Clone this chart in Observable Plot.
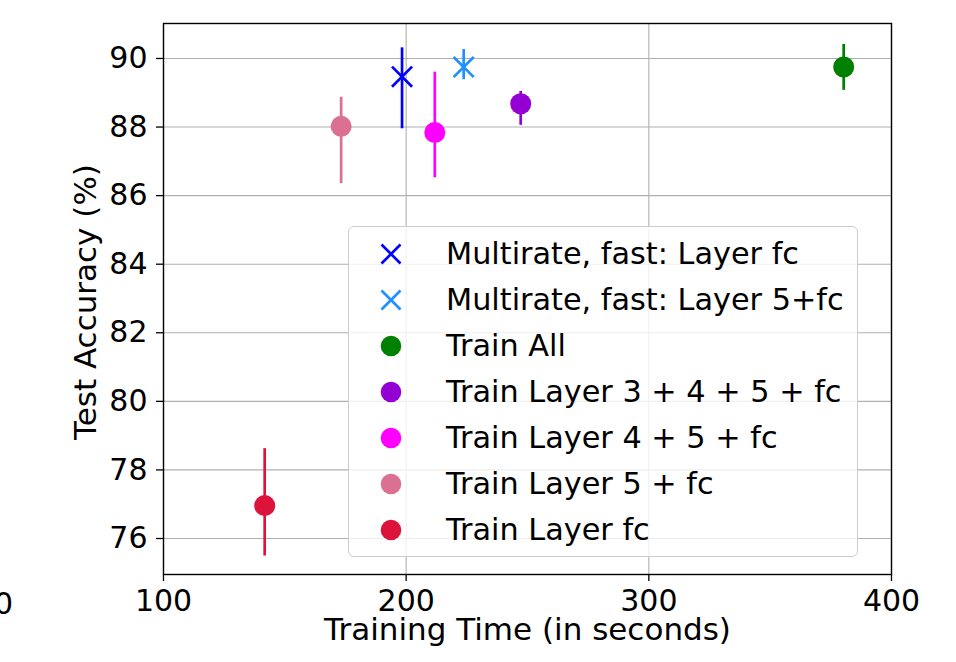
<!DOCTYPE html>
<html>
<head>
<meta charset="utf-8">
<script src="https://cdn.jsdelivr.net/npm/d3@7"></script>
<script src="https://cdn.jsdelivr.net/npm/@observablehq/plot@0.6"></script>
<style>
  html, body { margin: 0; padding: 0; background: white; }
  #wrap { position: relative; width: 956px; height: 662px; overflow: hidden; font-family: "DejaVu Sans", sans-serif; }
  #legend { position: absolute; left: 348px; top: 226px; width: 508px; height: 329px;
    border: 1.3px solid #cccccc; border-radius: 6px; background: rgba(255,255,255,0.8); }
  .row { position: absolute; left: 0; height: 46px; line-height: 46px; font-size: 30.3px; white-space: nowrap; color: black; }
  .row svg { position: absolute; left: 31px; top: 12px; }
  .row span { position: absolute; left: 97px; top: 0; }
  #stray { position: absolute; right: 943px; top: 586px; font-size: 30px; line-height: 36px; color: black; }
</style>
</head>
<body>
<div id="wrap">
  <div id="chart"></div>
  <div id="stray">0</div>
  <div id="legend"></div>
</div>
<script>
const names = [
  "Multirate, fast: Layer fc",
  "Multirate, fast: Layer 5+fc",
  "Train All",
  "Train Layer 3 + 4 + 5 + fc",
  "Train Layer 4 + 5 + fc",
  "Train Layer 5 + fc",
  "Train Layer fc"
];
const times    = [198.3, 223.7, 380.3, 247.2, 211.8, 173.2, 141.7];
const accuracy = [89.47, 89.75, 89.75, 88.68, 87.84, 88.02, 76.96];
const accLow   = [87.95, 89.38, 89.07, 88.05, 86.52, 86.35, 75.49];
const accHigh  = [90.31, 90.26, 90.41, 89.04, 89.60, 88.87, 78.62];
const colors   = ["#0000ff", "#1e90ff", "#008000", "#9400d3", "#ff00ff", "#db7093", "#dc143c"];
const markers  = ["times", "times", "circle", "circle", "circle", "circle", "circle"];
const xTicks = [100, 200, 300, 400];
const yTicks = [76, 78, 80, 82, 84, 86, 88, 90];
const xLabel = "Training Time (in seconds)";
const yLabel = "Test Accuracy (%)";

const data = names.map((name, i) => ({
  name, time: times[i], acc: accuracy[i], low: accLow[i], high: accHigh[i],
  color: colors[i], marker: markers[i]
}));

const chart = Plot.plot({
  width: 956,
  height: 662,
  marginLeft: 163,
  marginRight: 65,
  marginTop: 23,
  marginBottom: 88,
  style: { fontFamily: "DejaVu Sans", fontSize: "30px", color: "black", background: "white", overflow: "visible" },
  x: { domain: [100, 400], ticks: xTicks, tickSize: 7, tickPadding: 8, label: null, tickFormat: d => String(d) },
  y: { domain: [74.95, 91.02], ticks: yTicks, tickSize: 7, tickPadding: 9, label: null, tickFormat: d => String(d) },
  color: { type: "identity" },
  marks: [
    Plot.ruleX(xTicks, { x: d => d, stroke: "#b0b0b0", strokeWidth: 1.1 }),
    Plot.ruleY(yTicks, { y: d => d, stroke: "#b0b0b0", strokeWidth: 1.1 }),
    Plot.ruleX(data, { x: "time", y1: "low", y2: "high", stroke: "color", strokeWidth: 2.7 }),
    Plot.dot(data, { filter: d => d.marker === "circle", x: "time", y: "acc", fill: "color", r: 10.5, stroke: null }),
    Plot.dot(data, { filter: d => d.marker === "times", x: "time", y: "acc", stroke: "color", symbol: "times", r: 9.2, strokeWidth: 2.7 }),
    Plot.frame({ stroke: "black", strokeWidth: 1.4 }),
    Plot.text([xLabel], { text: d => d, frameAnchor: "bottom", dy: 56, textAnchor: "middle", lineAnchor: "middle", fill: "black", fontSize: 31 }),
    Plot.text([yLabel], { text: d => d, frameAnchor: "left", dx: -77.5, dy: 3, rotate: -90, textAnchor: "middle", lineAnchor: "middle", fill: "black", fontSize: 31 })
  ]
});
document.getElementById("chart").appendChild(chart);
d3.select(chart).selectAll("g[aria-label$='axis'] path, g[aria-label$='tick'] path").attr("stroke-width", 1.3);

const legend = d3.select("#legend");
data.forEach((d, i) => {
  const row = legend.append("div").attr("class", "row").style("top", (4 + i * 46) + "px").style("width", "500px");
  const svg = row.append("svg").attr("width", 22).attr("height", 22).attr("viewBox", "-11 -11 22 22");
  if (d.marker === "times") {
    svg.append("path").attr("d", "M-9.5,-9.5L9.5,9.5M-9.5,9.5L9.5,-9.5").attr("stroke", d.color).attr("stroke-width", 2.7).attr("fill", "none");
  } else {
    svg.append("circle").attr("r", 10.3).attr("fill", d.color);
  }
  row.append("span").text(d.name);
});
</script>
</body>
</html>
